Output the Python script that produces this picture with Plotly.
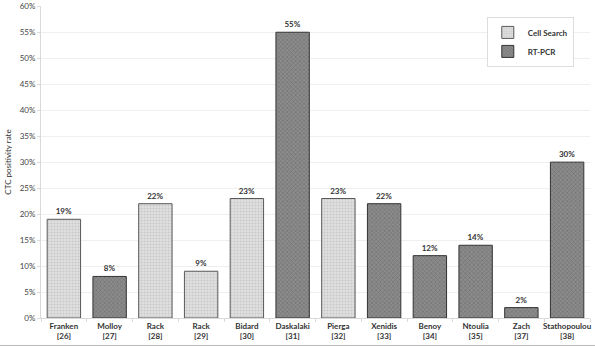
import plotly.graph_objects as go

categories = ["Franken<br>[26]", "Molloy<br>[27]", "Rack<br>[28]", "Rack<br>[29]", "Bidard<br>[30]",
              "Daskalaki<br>[31]", "Pierga<br>[32]", "Xenidis<br>[33]", "Benoy<br>[34]",
              "Ntoulia<br>[35]", "Zach<br>[37]", "Stathopoulou<br>[38]"]
cell_search = [19, None, 22, 9, 23, None, 23, None, None, None, None, None]
rt_pcr = [None, 8, None, None, None, 55, None, 22, 12, 14, 2, 30]

fig = go.Figure()
fig.add_trace(go.Bar(
    x=categories, y=cell_search, name="Cell Search",
    marker=dict(color="#d4d4d4", line=dict(color="#595959", width=1),
                pattern=dict(shape=".", fgcolor="#b0b0b0", bgcolor="#e0e0e0", size=3, solidity=0.4)),
    text=[f"{v}%" if v is not None else "" for v in cell_search],
    textposition="outside", textfont=dict(size=8, color="#333333", family="Lato", weight="bold"),
    cliponaxis=False,
))
fig.add_trace(go.Bar(
    x=categories, y=rt_pcr, name="RT-PCR",
    marker=dict(color="#7a7a7a", line=dict(color="#333333", width=1),
                pattern=dict(shape="x", fgcolor="#5a5a5a", bgcolor="#8c8c8c", size=3, solidity=0.4)),
    text=[f"{v}%" if v is not None else "" for v in rt_pcr],
    textposition="outside", textfont=dict(size=8, color="#333333", family="Lato", weight="bold"),
    cliponaxis=False,
))

fig.update_layout(
    width=595, height=346,
    margin=dict(l=41, r=5, t=6, b=28),
    barmode="relative", bargap=0.27,
    plot_bgcolor="white", paper_bgcolor="white",
    font=dict(family="Lato", size=8, color="#333333"),
    showlegend=True,
    legend=dict(x=0.812, y=0.965, xanchor="left", yanchor="top",
                bordercolor="#dddddd", borderwidth=1, bgcolor="white",
                font=dict(size=8, family="Lato", weight="bold"),
                itemwidth=30, tracegroupgap=6),
    xaxis=dict(tickfont=dict(size=8, family="Lato", weight="bold"), tickson="boundaries",
               tickangle=0, ticks="outside", ticklen=3, tickcolor="#d9d9d9", showline=True,
               linecolor="#d9d9d9", automargin=False),
    yaxis=dict(range=[0, 60.05], dtick=5, ticksuffix="%", gridcolor="#efefef",
               showline=True, linecolor="#d9d9d9", ticks="outside", ticklen=3,
               tickcolor="#d9d9d9", tickfont=dict(size=8, color="#444444"),
               title=dict(text="CTC positivity rate", font=dict(size=8, family="Lato"), standoff=6),
               zeroline=False, automargin=False),
)
fig.add_shape(type="line", xref="paper", yref="paper", x0=-0.08, x1=1.01, y0=-0.088, y1=-0.088,
              line=dict(color="#bbbbbb", width=1))
fig.write_html("out.html")
